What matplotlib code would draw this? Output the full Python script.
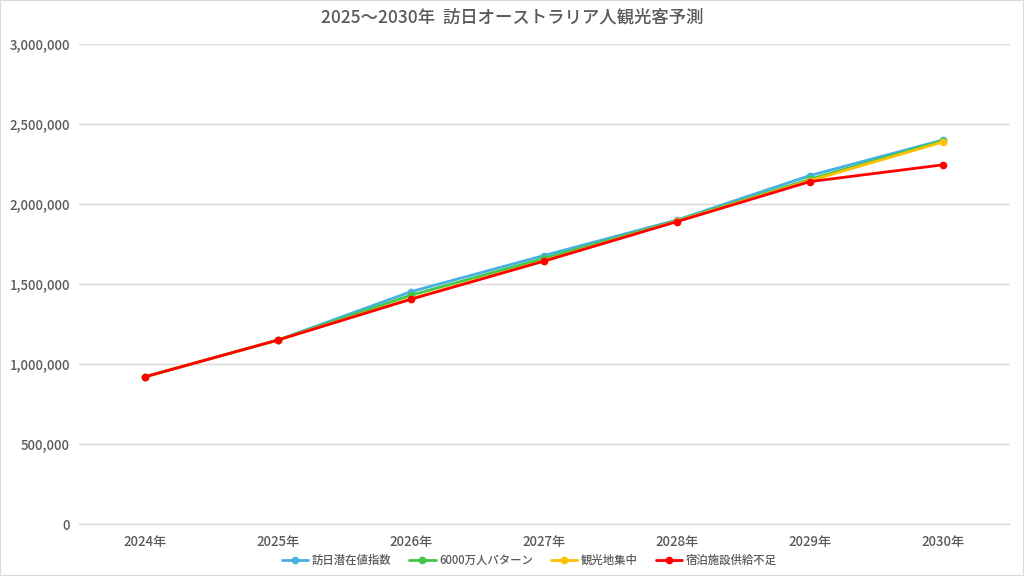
import matplotlib
matplotlib.use("Agg")
import matplotlib.pyplot as plt
from matplotlib.ticker import FuncFormatter

plt.rcParams["font.family"] = ["Noto Sans CJK JP", "DejaVu Sans"]

# 年（カテゴリ）
years = ["2024年", "2025年", "2026年", "2027年", "2028年", "2029年", "2030年"]

# 各シナリオの予測値（人）
potential_index = [920000, 1150000, 1452000, 1678000, 1900000, 2178000, 2400000]
pattern_60m = [920000, 1150000, 1430000, 1660000, 1895000, 2155000, 2395000]
tourist_focus = [920000, 1150000, 1408000, 1645000, 1892000, 2146000, 2388000]
lodging_short = [920000, 1150000, 1405000, 1643000, 1890000, 2140000, 2245000]

series_names = ["訪日潜在値指数", "6000万人パターン", "観光地集中", "宿泊施設供給不足"]
series_values = [potential_index, pattern_60m, tourist_focus, lodging_short]
series_colors = ["#45B0E1", "#40C84A", "#FFC000", "#FF0000"]

title = "2025～2030年  訪日オーストラリア人観光客予測"

fig = plt.figure(figsize=(10.24, 5.76), dpi=100)
ax = fig.add_axes([78.5 / 1024, 52 / 576, 931 / 1024, 480 / 576])

x = list(range(len(years)))
for name, values, color in zip(series_names, series_values, series_colors):
    ax.plot(x, values, color=color, linewidth=2.0, marker="o",
            markersize=4.5, label=name, solid_capstyle="round")

ax.set_xlim(-0.5, len(years) - 0.5)
ax.set_ylim(0, 3000000)
ax.set_yticks(range(0, 3000001, 500000))
ax.yaxis.set_major_formatter(FuncFormatter(lambda v, p: f"{int(v):,}"))
ax.set_xticks(x)
ax.set_xticklabels(years)

ax.grid(axis="y", color="#D9D9D9", linewidth=1.0)
ax.set_axisbelow(True)
for side in ["top", "right", "left"]:
    ax.spines[side].set_visible(False)
ax.spines["bottom"].set_color("#D9D9D9")
ax.tick_params(axis="both", length=0, colors="#595959", labelsize=9.5)
ax.tick_params(axis="x", pad=8)
ax.tick_params(axis="y", pad=6)
for lbl in ax.get_xticklabels() + ax.get_yticklabels():
    lbl.set_fontweight("medium")

fig.text(0.5, 1 - 18 / 576, title, ha="center", va="center",
         fontsize=12.5, color="#595959", fontweight="medium")

leg = ax.legend(loc="center", bbox_to_anchor=(0.484, -0.075), ncol=4,
                frameon=False, fontsize=8.2, labelcolor="#595959",
                handlelength=2.3, columnspacing=1.6, handletextpad=0.3)
for t in leg.get_texts():
    t.set_fontweight("medium")

# 外枠
fig.patches.append(plt.Rectangle((0, 0), 1, 1, transform=fig.transFigure,
                                 fill=False, edgecolor="#D9D9D9", linewidth=1.5))

fig.savefig("out.png", dpi=100)
plt.close(fig)
